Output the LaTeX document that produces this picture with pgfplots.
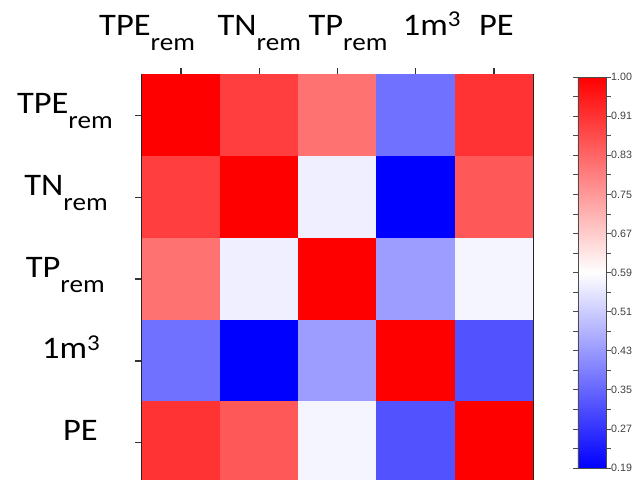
\documentclass[border=0pt]{standalone}
\usepackage{pgfplots}
\pgfplotsset{compat=1.18}
\usepackage{fontspec}
\setmainfont[FakeStretch=1.1]{Carlito}
\newfontfamily\cbfont{Liberation Sans}
\newcommand{\lb}{\fontsize{23.5}{26}\selectfont}
\newcommand{\rem}{\raisebox{-11.5pt}{\fontsize{18.5}{20}\selectfont rem}}
\newcommand{\cube}{\raisebox{6.5pt}{\fontsize{17}{18}\selectfont 3}}
\begin{document}
\begin{tikzpicture}
\path[use as bounding box] (0,0) rectangle (481.5pt,-359.25pt);
\begin{axis}[
  at={(106.5pt,-55.9pt)}, anchor=north west,
  scale only axis, width=293.25pt, height=306.75pt,
  xmin=-0.5, xmax=4.5, ymin=-0.5, ymax=4.5, y dir=reverse,
  enlargelimits=false,
  axis line style={line width=1.5pt, draw=black!85},
  xtick={0,...,4}, ytick={0,...,4},
  xtick pos=upper, xticklabel pos=upper, ytick pos=left,
  tick align=outside, major tick length=5pt,
  tick style={line width=1pt, black!80},
  xticklabels={{TPE\rem\hspace*{51pt}}, {TN\rem}, {\hspace*{15.75pt}TP\rem}, {\hspace*{24pt}1m\cube}, {\hspace*{3.75pt}PE}},
  yticklabels={{TPE\rem}, {TN\rem\hspace*{3.75pt}}, {TP\rem\hspace*{6pt}}, {1m\cube\hspace*{9.75pt}}, {PE\hspace*{11.25pt}}},
  xticklabel style={font=\lb, anchor=base, inner sep=0pt, yshift=24.6pt},
  yticklabel style={font=\lb, anchor=base east, inner sep=0pt, xshift=-16.75pt, yshift=1.5pt},
  colormap={bwr}{rgb255=(0,0,255) rgb255=(255,255,255) rgb255=(255,0,0)},
  point meta min=0.19, point meta max=1.0,
  colorbar,
  colorbar/width=21pt,
  colorbar style={
    at={(parent axis.north east)}, anchor=north west, xshift=25.2pt, yshift=-1.9pt,
    scale only axis, height=293.25pt,
    axis line style={line width=0.6pt, draw=black!70},
    ytick={0.19,0.271,0.352,0.433,0.514,0.595,0.676,0.757,0.838,0.919,1.0},
    yticklabels={0.19,0.27,0.35,0.43,0.51,0.59,0.67,0.75,0.83,0.91,1.00},
    minor ytick={0.2305,0.3115,0.3925,0.4735,0.5545,0.6355,0.7165,0.7975,0.8785,0.9595},
    tick align=outside, major tick length=3.75pt, minor tick length=3.75pt,
    tick style={line width=0.6pt, black!70},
    yticklabel style={font=\cbfont\fontsize{8}{9}\selectfont, text=black!75, inner sep=0pt, anchor=west, xshift=0pt},
  },
]
\addplot[matrix plot*, mesh/cols=5, point meta=explicit] table[meta=c] {
x y c
0 0 1.00
1 0 0.90
2 0 0.82
3 0 0.37
4 0 0.92
0 1 0.90
1 1 1.00
2 1 0.57
3 1 0.19
4 1 0.86
0 2 0.82
1 2 0.57
2 2 1.00
3 2 0.44
4 2 0.58
0 3 0.37
1 3 0.19
2 3 0.44
3 3 1.00
4 3 0.32
0 4 0.92
1 4 0.86
2 4 0.58
3 4 0.32
4 4 1.00
};
\end{axis}
\end{tikzpicture}
\end{document}
